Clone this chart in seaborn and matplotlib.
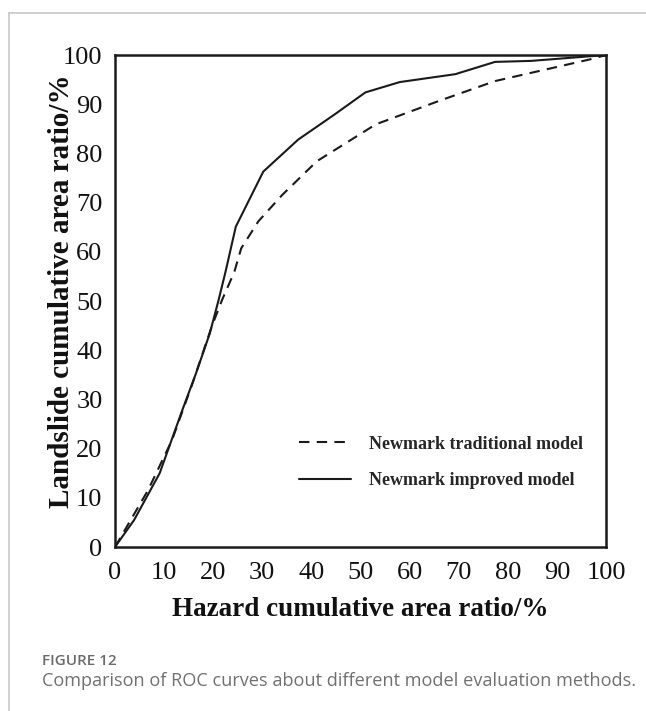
import matplotlib
matplotlib.use("Agg")
import matplotlib.pyplot as plt
from matplotlib.lines import Line2D
import seaborn as sns
import pandas as pd

# ---- data ----
hazard_traditional = [0, 6.7, 11.6, 15.8, 19.7, 21.8, 24.3, 25.7, 29.2, 34.1, 41.1, 53.1, 65.8, 77.4, 96.7, 100]
landslide_traditional = [0, 11.5, 21.7, 33.3, 44.8, 50.2, 55.9, 60.7, 66.2, 71.6, 78.4, 85.9, 90.6, 94.7, 99.1, 100]

hazard_improved = [0, 3.9, 9.1, 13.7, 16.5, 19.3, 21.1, 22.5, 24.6, 30.2, 37.3, 44.7, 51.0, 58.0, 69.3, 77.4, 84.7, 100]
landslide_improved = [0, 5.5, 15.0, 27.8, 35.3, 43.4, 50.2, 55.9, 65.1, 76.3, 82.8, 87.9, 92.4, 94.5, 96.1, 98.6, 98.8, 100]

series_names = ["Newmark traditional model", "Newmark improved model"]
tick_values = [0, 10, 20, 30, 40, 50, 60, 70, 80, 90, 100]
x_label = "Hazard cumulative area ratio/%"
y_label = "Landslide cumulative area ratio/%"
fig_label = "FIGURE 12"
caption = "Comparison of ROC curves about different model evaluation methods."

df_trad = pd.DataFrame({"hazard": hazard_traditional, "landslide": landslide_traditional})
df_impr = pd.DataFrame({"hazard": hazard_improved, "landslide": landslide_improved})

sns.set_theme(style="white")
plt.rcParams["font.family"] = ["Liberation Serif", "DejaVu Serif"]

fig = plt.figure(figsize=(6.46, 7.11), dpi=100)
ax = fig.add_axes([115 / 646, 1 - 547 / 711, 491 / 646, 492 / 711])

sns.lineplot(data=df_trad, x="hazard", y="landslide", ax=ax, color="#1a1a1a",
             linewidth=1.5, linestyle=(0, (5, 3.5)), estimator=None, sort=False,
             label=series_names[0])
sns.lineplot(data=df_impr, x="hazard", y="landslide", ax=ax, color="#1a1a1a",
             linewidth=1.5, linestyle="-", estimator=None, sort=False,
             label=series_names[1])

ax.set_xlim(0, 100)
ax.set_ylim(0, 100)
ax.set_xticks(tick_values)
ax.set_yticks(tick_values)
ax.set_xticklabels([str(v) for v in tick_values])
ax.set_yticklabels([str(v) for v in tick_values])
ax.tick_params(axis="both", direction="in", length=7, width=1.4, color="#1a1a1a",
               labelsize=19, labelcolor="#111111")
ax.tick_params(axis="x", pad=11)
ax.tick_params(axis="y", pad=9)
for sp in ax.spines.values():
    sp.set_visible(True)
    sp.set_linewidth(1.8)
    sp.set_color("#1a1a1a")

ax.set_xlabel(x_label, fontsize=19.5, fontweight="bold", color="#111111", va="top")
ax.xaxis.set_label_coords(0.5, -0.1016)
ax.set_ylabel(y_label, fontsize=21, fontweight="bold", color="#111111")
ax.yaxis.set_label_coords(-0.0815, 0.52)

leg = ax.legend(loc="upper left", bbox_to_anchor=(37.5, 22.6), bbox_transform=ax.transData,
                frameon=False, handlelength=2.9, handletextpad=0.95, labelspacing=1.07,
                borderaxespad=0, borderpad=0,
                prop={"family": "Liberation Serif", "weight": "bold", "size": 13})

# page frame lines
fig.add_artist(Line2D([9 / 646, 1.0], [1 - 13 / 711, 1 - 13 / 711], color="#c8c8c8", lw=1.2,
                      transform=fig.transFigure))
fig.add_artist(Line2D([9 / 646, 9 / 646], [0, 1 - 13 / 711], color="#c8c8c8", lw=1.2,
                      transform=fig.transFigure))

fig.text(42 / 646, 1 - 665 / 711, fig_label, fontsize=11, fontweight="semibold",
         color="#6b6b6b", family=["Open Sans", "DejaVu Sans"], va="baseline")
fig.text(42 / 646, 1 - 686 / 711, caption, fontsize=13.1, color="#707070",
         family=["Open Sans", "DejaVu Sans"], va="baseline")

fig.savefig("out.png", dpi=100)
